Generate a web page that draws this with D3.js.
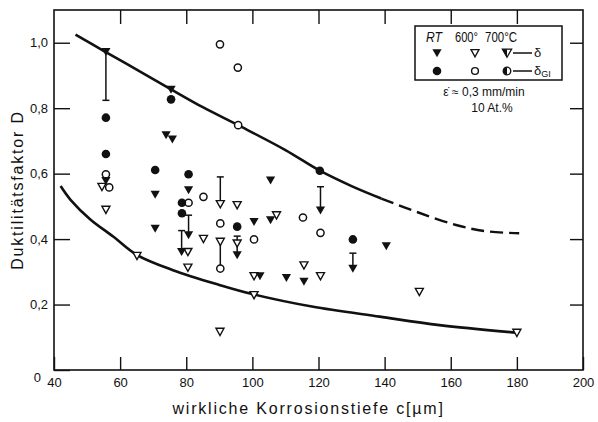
<!DOCTYPE html>
<html>
<head>
<meta charset="utf-8">
<script src="https://cdn.jsdelivr.net/npm/d3@7"></script>
<style>
  body { margin: 0; background: #fff; }
  text { font-family: "Liberation Sans", Arial, sans-serif; fill: #111; }
</style>
</head>
<body>
<div id="chart"></div>
<script>
// x = corrosion depth c [µm], y = ductility factor D
var xTicks = [40, 60, 80, 100, 120, 140, 160, 180, 200];
var yTicks = [0, 0.2, 0.4, 0.6, 0.8, 1.0];

// RT, delta (filled triangles)
var rtDelta = [[55.7,0.972],[75.4,0.857],[73.9,0.718],[75.8,0.705],[55.7,0.578],[70.6,0.536],
  [80.7,0.55],[70.6,0.432],[80.7,0.412],[78.6,0.361],[105.5,0.58],[95.4,0.351],[100.5,0.453],
  [105.5,0.458],[102.3,0.287],[110.3,0.282],[115.6,0.27],[120.6,0.488],[130.4,0.31],[140.5,0.379]];
// RT, delta_Gl (filled circles)
var rtGl = [[55.7,0.771],[55.7,0.66],[75.4,0.827],[70.6,0.611],[80.7,0.598],[78.7,0.511],
  [78.7,0.479],[95.4,0.438],[120.4,0.609],[130.4,0.399]];
// 600 °C, delta (open triangles)
var t600Delta = [[54.5,0.56],[55.7,0.49],[65.1,0.349],[85.2,0.401],[80.5,0.361],[80.5,0.313],
  [90.3,0.507],[95.4,0.504],[107.3,0.473],[90.3,0.392],[95.4,0.387],[90.2,0.117],[100.5,0.287],
  [115.6,0.32],[120.6,0.287],[100.5,0.229],[150.5,0.239],[180,0.114]];
// 600 °C, delta_Gl (open circles)
var t600Gl = [[90.2,0.995],[95.6,0.924],[95.7,0.748],[55.7,0.598],[56.7,0.558],[85.2,0.529],
  [80.7,0.511],[90.3,0.448],[100.5,0.399],[90.3,0.31],[115.3,0.466],[120.6,0.419]];

// scatter bars: x, capped end, other end
var bars = [[55.7,0.824,0.972],[80.7,0.473,0.412],[78.6,0.426,0.361],[90.3,0.59,0.507],
  [90.3,null,0.392,0.31],[95.4,0.409,0.351],[120.6,0.56,0.488],[130.4,0.357,0.31]];

// envelope curves
var upperSolid = [[46.5,1.025],[55,0.975],[65,0.918],[75,0.86],[85,0.803],[95.7,0.748],
  [110,0.672],[120.4,0.609],[130,0.562],[139,0.524]];
var upperDashed = [[139,0.524],[150,0.482],[161.6,0.443],[170.7,0.424],[180.7,0.418]];
var lower = [[42,0.562],[45,0.52],[51,0.46],[58,0.407],[65,0.352],[76,0.305],[90,0.26],
  [100,0.232],[118,0.194],[138.5,0.163],[156.6,0.137],[180,0.114]];

var margin = {top: 10, right: 15, bottom: 52, left: 54},
    width = 598 - margin.left - margin.right,
    height = 422 - margin.top - margin.bottom;

var svg = d3.select("#chart")
  .append("svg")
    .attr("width", 598)
    .attr("height", 422)
  .append("g")
    .attr("transform", "translate(" + margin.left + "," + margin.top + ")");

var x = d3.scaleLinear().domain([40, 200]).range([0, width]);
var y = d3.scaleLinear().domain([0, 1.1]).range([height, 0]);

var fmt = function(d) { return d === 0 ? "0" : d3.format(".1f")(d).replace(".", ","); };

// axes with inward ticks
var xAxis = svg.append("g")
    .attr("transform", "translate(0," + height + ")")
    .call(d3.axisBottom(x).tickValues(xTicks).tickSize(-13).tickSizeOuter(0).tickPadding(8));
xAxis.selectAll("text").style("font-size", "13px");

svg.append("g")
    .call(d3.axisTop(x).tickValues(xTicks.slice(1, -1)).tickSize(-14).tickSizeOuter(0).tickFormat(""));

var yAxis = svg.append("g")
    .call(d3.axisLeft(y).tickValues(yTicks).tickSize(-16).tickSizeOuter(0).tickPadding(6).tickFormat(fmt));
yAxis.selectAll("text").style("font-size", "13px");
yAxis.selectAll(".tick").filter(function(d) { return d === 0; }).select("text")
    .attr("x", -13).attr("dy", "0.9em");

svg.append("g")
    .attr("transform", "translate(" + width + ",0)")
    .call(d3.axisRight(y).tickValues(yTicks.slice(1)).tickSize(-13).tickSizeOuter(0).tickFormat(""));

svg.selectAll(".domain").remove();
svg.selectAll(".tick line").attr("stroke", "#111").attr("stroke-width", 1.4);

svg.append("rect")
    .attr("width", width)
    .attr("height", height)
    .attr("fill", "none")
    .attr("stroke", "#111")
    .attr("stroke-width", 1.6);

// axis titles
svg.append("text")
    .attr("x", x(117))
    .attr("y", height + 44)
    .attr("text-anchor", "middle")
    .style("font-size", "16px")
    .style("letter-spacing", "1.8px")
    .text("wirkliche Korrosionstiefe c[\u00b5m]");

svg.append("text")
    .attr("transform", "rotate(-90)")
    .attr("x", -y(0.55))
    .attr("y", -31)
    .attr("text-anchor", "middle")
    .style("font-size", "16px")
    .style("letter-spacing", "1.8px")
    .text("Duktilitätsfaktor D");

// curves
var line = d3.line()
    .x(function(d) { return x(d[0]); })
    .y(function(d) { return y(d[1]); })
    .curve(d3.curveCatmullRom);

svg.append("path").datum(upperSolid).attr("d", line)
    .attr("fill", "none").attr("stroke", "#111").attr("stroke-width", 2.6);
svg.append("path").datum(upperDashed).attr("d", line)
    .attr("fill", "none").attr("stroke", "#111").attr("stroke-width", 2.4)
    .attr("stroke-dasharray", "13,6");
svg.append("path").datum(lower).attr("d", line)
    .attr("fill", "none").attr("stroke", "#111").attr("stroke-width", 2.6);

// bars
var barG = svg.append("g").attr("stroke", "#111").attr("stroke-width", 1.5);
barG.selectAll("line.bar").data(bars).enter().append("line")
    .attr("x1", function(d) { return x(d[0]); })
    .attr("x2", function(d) { return x(d[0]); })
    .attr("y1", function(d) { return y(d[1] === null ? d[2] : d[1]); })
    .attr("y2", function(d) { return y(d[1] === null ? d[3] : d[2]); });
barG.selectAll("line.cap").data(bars.filter(function(d) { return d[1] !== null; })).enter().append("line")
    .attr("x1", function(d) { return x(d[0]) - 3.5; })
    .attr("x2", function(d) { return x(d[0]) + 3.5; })
    .attr("y1", function(d) { return y(d[1]); })
    .attr("y2", function(d) { return y(d[1]); });

// markers
var tri = "M-4.6,-3.8L4.6,-3.8L0,4.2Z";
var pos = function(d) { return "translate(" + x(d[0]) + "," + y(d[1]) + ")"; };

svg.append("g").selectAll("path").data(t600Delta).enter().append("path")
    .attr("d", "M-4,-3.4L4,-3.4L0,3.8Z")
    .attr("transform", pos)
    .attr("fill", "#fff").attr("stroke", "#111").attr("stroke-width", 1.4);

svg.append("g").selectAll("circle").data(t600Gl).enter().append("circle")
    .attr("cx", function(d) { return x(d[0]); })
    .attr("cy", function(d) { return y(d[1]); })
    .attr("r", 3.6)
    .attr("fill", "#fff").attr("stroke", "#111").attr("stroke-width", 1.5);

svg.append("g").selectAll("path").data(rtDelta).enter().append("path")
    .attr("d", tri)
    .attr("transform", pos)
    .attr("fill", "#111");

svg.append("g").selectAll("circle").data(rtGl).enter().append("circle")
    .attr("cx", function(d) { return x(d[0]); })
    .attr("cy", function(d) { return y(d[1]); })
    .attr("r", 4.3)
    .attr("fill", "#111");

// legend
var lg = svg.append("g").attr("transform", "translate(" + (415 - margin.left) + "," + (26 - margin.top) + ")");
lg.append("rect").attr("width", 147).attr("height", 54)
    .attr("fill", "#fff").attr("stroke", "#111").attr("stroke-width", 1.5);
lg.append("text").attr("x", 11).attr("y", 16).style("font-size", "14px").style("font-style", "italic")
    .attr("textLength", 16).attr("lengthAdjust", "spacingAndGlyphs").text("RT");
lg.append("text").attr("x", 40).attr("y", 16).style("font-size", "14px")
    .attr("textLength", 23).attr("lengthAdjust", "spacingAndGlyphs").text("600°");
lg.append("text").attr("x", 70).attr("y", 16).style("font-size", "14px")
    .attr("textLength", 32).attr("lengthAdjust", "spacingAndGlyphs").text("700°C");

lg.append("path").attr("d", tri).attr("transform", "translate(22,27)").attr("fill", "#111");
lg.append("path").attr("d", "M-4,-3.4L4,-3.4L0,3.8Z").attr("transform", "translate(60,27)")
    .attr("fill", "#fff").attr("stroke", "#111").attr("stroke-width", 1.3);
lg.append("path").attr("d", tri).attr("transform", "translate(92,27)")
    .attr("fill", "#fff").attr("stroke", "#111").attr("stroke-width", 1.3);
lg.append("path").attr("d", "M-4.6,-3.8L0,-3.8L0,4.2Z").attr("transform", "translate(92,27)").attr("fill", "#111");

lg.append("circle").attr("cx", 22).attr("cy", 45).attr("r", 4.3).attr("fill", "#111");
lg.append("circle").attr("cx", 60).attr("cy", 45).attr("r", 3.4)
    .attr("fill", "#fff").attr("stroke", "#111").attr("stroke-width", 1.4);
lg.append("circle").attr("cx", 92).attr("cy", 45).attr("r", 3.8)
    .attr("fill", "#fff").attr("stroke", "#111").attr("stroke-width", 1.3);
lg.append("path").attr("d", "M0,-3.8A3.8,3.8 0 0 0 0,3.8Z").attr("transform", "translate(92,45)").attr("fill", "#111");

lg.append("line").attr("x1", 98).attr("x2", 117).attr("y1", 27).attr("y2", 27).attr("stroke", "#111").attr("stroke-width", 1.5);
lg.append("line").attr("x1", 98).attr("x2", 117).attr("y1", 45).attr("y2", 45).attr("stroke", "#111").attr("stroke-width", 1.5);
lg.append("text").attr("x", 119).attr("y", 31).style("font-size", "13px").text("δ");
var gl = lg.append("text").attr("x", 119).attr("y", 49).style("font-size", "13px");
gl.append("tspan").text("δ");
gl.append("tspan").attr("dy", 2).style("font-size", "9px").text("GI");

svg.append("text")
    .attr("x", 484 - margin.left)
    .attr("y", 96 - margin.top)
    .attr("text-anchor", "middle")
    .style("font-size", "12px")
    .text("\u03b5\u0307 \u2248 0,3 mm/min");
svg.append("text")
    .attr("x", 492 - margin.left)
    .attr("y", 112 - margin.top)
    .attr("text-anchor", "middle")
    .style("font-size", "12px")
    .text("10 At.%");
</script>
</body>
</html>
